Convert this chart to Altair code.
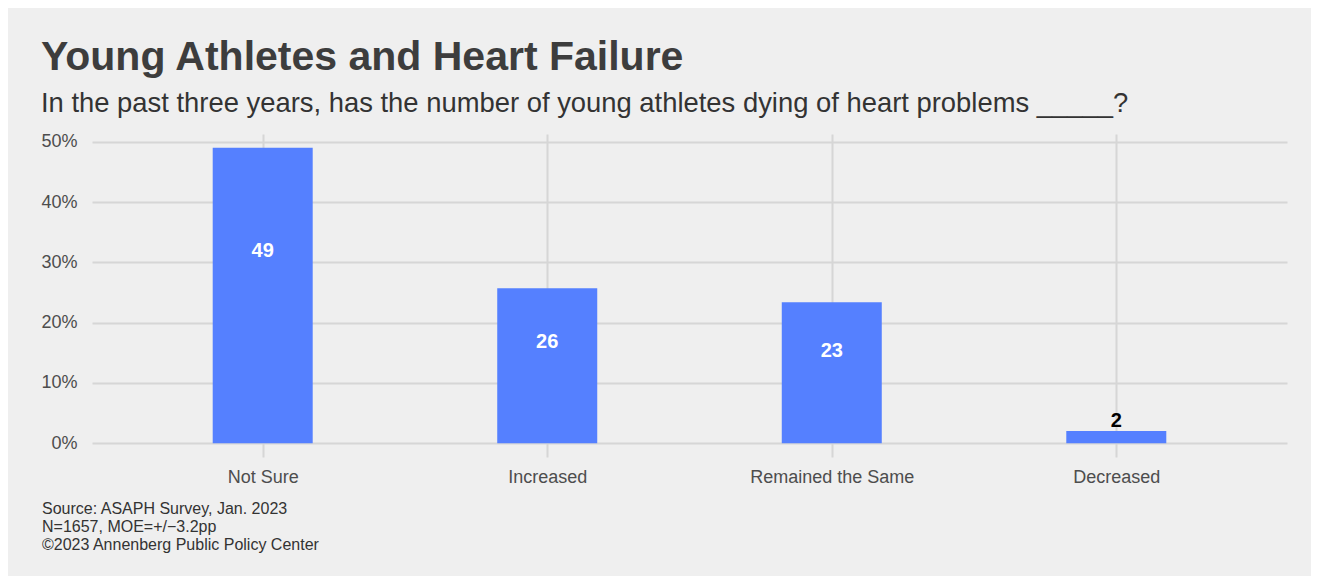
import altair as alt
import pandas as pd

categories = ["Not Sure", "Increased", "Remained the Same", "Decreased"]
values = [49.0, 25.7, 23.4, 2.0]
labels = ["49", "26", "23", "2"]
y_ticks = [0, 10, 20, 30, 40, 50]

title_text = "Young Athletes and Heart Failure"
subtitle_text = "In the past three years, has the number of young athletes dying of heart problems _____?"
caption_lines = [
    "Source: ASAPH Survey, Jan. 2023",
    "N=1657, MOE=+/\u22123.2pp",
    "\u00a92023 Annenberg Public Policy Center",
]

FONT = "Liberation Sans"
BAR = "#5580ff"
GRID = "#d6d6d6"

df = pd.DataFrame({"cat": categories, "val": values, "lab": labels})

x_enc = alt.X(
    "cat:N",
    sort=categories,
    scale=alt.Scale(type="point", padding=0.6),
    axis=alt.Axis(
        title=None, labelAngle=0, labelFontSize=18, labelColor="#4d4d4d",
        labelFont=FONT, labelPadding=11, ticks=False, domain=False,
        grid=True, gridColor=GRID, gridWidth=2,
    ),
)
y_scale = alt.Scale(domain=[-2.3, 51.3], nice=False, zero=False)

base = alt.Chart(df)

bars = base.mark_bar(color=BAR, size=100).encode(
    x=x_enc,
    y=alt.Y(
        "val:Q", scale=y_scale,
        axis=alt.Axis(
            title=None, values=y_ticks, labelExpr="datum.value + '%'",
            labelFontSize=18, labelColor="#4d4d4d", labelFont=FONT,
            labelPadding=15, ticks=False, domain=False,
            grid=True, gridColor=GRID, gridWidth=2,
        ),
    ),
    y2=alt.datum(0),
)

inside = base.transform_filter("datum.val >= 5").transform_calculate(
    ly="datum.val * 0.65"
).mark_text(
    color="white", fontWeight="bold", fontSize=20, font=FONT, baseline="middle"
).encode(
    x=alt.X("cat:N", sort=categories),
    y=alt.Y("ly:Q", scale=y_scale),
    text="lab:N",
)

outside = base.transform_filter("datum.val < 5").mark_text(
    color="black", fontWeight="bold", fontSize=20, font=FONT,
    baseline="alphabetic", dy=-4,
).encode(
    x=alt.X("cat:N", sort=categories),
    y=alt.Y("val:Q", scale=y_scale),
    text="lab:N",
)

caption = alt.Chart(pd.DataFrame({"c": [0]})).mark_text(
    align="left", baseline="alphabetic", fontSize=16, font=FONT,
    color="#333333", lineHeight=17.8,
).encode(
    x=alt.value(-50),
    y=alt.value(380),
    text=alt.value(caption_lines),
)

chart = alt.layer(bars, inside, outside, caption).properties(
    width=1195,
    height=323,
    background="#efefef",
    padding={"left": 84, "top": 126, "right": 24, "bottom": 119},
    autosize=alt.AutoSizeParams(type="none"),
    title=alt.TitleParams(
        text=title_text,
        subtitle=subtitle_text,
        anchor="start",
        frame="bounds",
        font=FONT,
        fontSize=41,
        fontWeight="bold",
        color="#3d3d3d",
        subtitleFont=FONT,
        subtitleFontSize=27.4,
        subtitleColor="#333333",
        subtitlePadding=11,
        offset=14,
    ),
).configure_view(stroke=None)

chart.save("out.html", embed_options={"renderer": "svg", "actions": False})
